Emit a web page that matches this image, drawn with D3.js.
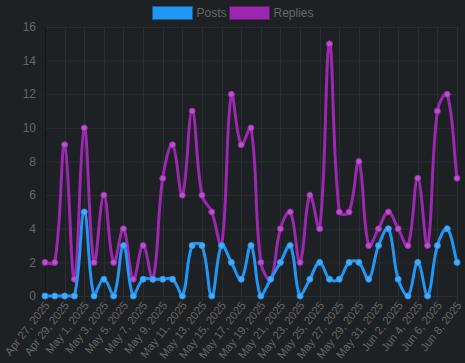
<!DOCTYPE html>
<html>
<head>
<meta charset="utf-8">
<script src="https://cdn.jsdelivr.net/npm/d3@7"></script>
<style>
  html, body { margin: 0; padding: 0; background: #1e2124; }
  svg { display: block; font-family: "Helvetica Neue", Helvetica, Arial, sans-serif; }
</style>
</head>
<body>
<script>
// data
var dates = ["Apr 27, 2025", "Apr 28, 2025", "Apr 29, 2025", "Apr 30, 2025",
  "May 1, 2025", "May 2, 2025", "May 3, 2025", "May 4, 2025", "May 5, 2025", "May 6, 2025",
  "May 7, 2025", "May 8, 2025", "May 9, 2025", "May 10, 2025", "May 11, 2025", "May 12, 2025",
  "May 13, 2025", "May 14, 2025", "May 15, 2025", "May 16, 2025", "May 17, 2025", "May 18, 2025",
  "May 19, 2025", "May 20, 2025", "May 21, 2025", "May 22, 2025", "May 23, 2025", "May 24, 2025",
  "May 25, 2025", "May 26, 2025", "May 27, 2025", "May 28, 2025", "May 29, 2025", "May 30, 2025",
  "May 31, 2025", "Jun 1, 2025", "Jun 2, 2025", "Jun 3, 2025", "Jun 4, 2025", "Jun 5, 2025",
  "Jun 6, 2025", "Jun 7, 2025", "Jun 8, 2025"];

var posts = [0, 0, 0, 0, 5, 0, 1, 0, 3, 0, 1, 1, 1, 1, 0, 3, 3, 0, 3, 2, 1, 3, 0, 1, 2, 3, 0, 1, 2, 1, 1, 2, 2, 1, 3, 4, 1, 0, 2, 0, 3, 4, 2];
var replies = [2, 2, 9, 1, 10, 2, 6, 2, 4, 1, 3, 1, 7, 9, 6, 11, 6, 5, 3, 12, 9, 10, 2, 1, 4, 5, 2, 6, 4, 15, 5, 5, 8, 3, 4, 5, 4, 3, 7, 3, 11, 12, 7];

var yTicks = [0, 2, 4, 6, 8, 10, 12, 14, 16];

var series = [
  { name: "Posts", values: posts, color: "#2196F3", point: "#4aaaf5", edge: "#1b5c93" },
  { name: "Replies", values: replies, color: "#9C27B0", point: "#b556c6", edge: "#5e1a6b" }
];

var width = 465, height = 363;
var area = { left: 45, right: 457, top: 27, bottom: 296 };

var svg = d3.select("body").append("svg")
  .attr("width", width)
  .attr("height", height);

svg.append("rect").attr("width", width).attr("height", height).attr("fill", "#1e2124");

var x = d3.scalePoint()
  .domain(dates)
  .range([area.left, area.right]);

var y = d3.scaleLinear()
  .domain([0, 16])
  .range([area.bottom, area.top]);

var gridColor = "#2a2d31";
var textColor = "#666";

// grid
var grid = svg.append("g");
grid.selectAll(".hgrid")
  .data(yTicks)
  .enter().append("line")
  .attr("x1", area.left).attr("x2", area.right)
  .attr("y1", function(d) { return y(d) + 0.5; })
  .attr("y2", function(d) { return y(d) + 0.5; })
  .attr("stroke", gridColor);

// only every second date gets a label
var labelDates = dates.filter(function(d, i) { return i % 2 == 0; });

grid.selectAll(".vgrid")
  .data(labelDates)
  .enter().append("line")
  .attr("x1", function(d) { return Math.round(x(d)) + 0.5; })
  .attr("x2", function(d) { return Math.round(x(d)) + 0.5; })
  .attr("y1", area.top).attr("y2", area.bottom + 6)
  .attr("stroke", gridColor);

// y axis line
svg.append("line")
  .attr("x1", area.left + 0.5).attr("x2", area.left + 0.5)
  .attr("y1", area.top).attr("y2", area.bottom)
  .attr("stroke", "#141618");

// y labels
svg.selectAll(".ylab")
  .data(yTicks)
  .enter().append("text")
  .attr("x", 36)
  .attr("y", function(d) { return y(d); })
  .attr("dy", "0.35em")
  .attr("text-anchor", "end")
  .attr("font-size", 12)
  .attr("fill", textColor)
  .text(function(d) { return d; });

// x labels
svg.selectAll(".xlab")
  .data(labelDates)
  .enter().append("text")
  .attr("transform", function(d) { return "translate(" + (x(d) + 2) + "," + (area.bottom + 7) + ") rotate(-52)"; })
  .attr("dy", "0.35em")
  .attr("text-anchor", "end")
  .attr("font-size", 11.3)
  .attr("fill", textColor)
  .text(function(d) { return d; });

// chart.js style spline, tension 0.4, control points capped to the chart area
function splinePath(pts, t) {
  var cps = pts.map(function(p, i) {
    var prev = pts[i - 1] || p, next = pts[i + 1] || p;
    var d01 = Math.hypot(p[0] - prev[0], p[1] - prev[1]);
    var d12 = Math.hypot(next[0] - p[0], next[1] - p[1]);
    var s01 = d01 / (d01 + d12) || 0, s12 = d12 / (d01 + d12) || 0;
    var fa = t * s01, fb = t * s12;
    var cap = function(c) {
      return [Math.max(area.left, Math.min(area.right, c[0])), Math.max(area.top, Math.min(area.bottom, c[1]))];
    };
    return {
      before: cap([p[0] - fa * (next[0] - prev[0]), p[1] - fa * (next[1] - prev[1])]),
      after: cap([p[0] + fb * (next[0] - prev[0]), p[1] + fb * (next[1] - prev[1])])
    };
  });
  var path = d3.path();
  path.moveTo(pts[0][0], pts[0][1]);
  for (var i = 1; i < pts.length; i++) {
    path.bezierCurveTo(cps[i - 1].after[0], cps[i - 1].after[1], cps[i].before[0], cps[i].before[1], pts[i][0], pts[i][1]);
  }
  return path.toString();
}

// replies drawn first so posts sit on top
series.slice().reverse().forEach(function(s) {
  var pts = s.values.map(function(v, i) { return [x(dates[i]), y(v)]; });
  var g = svg.append("g");
  g.append("path")
    .attr("d", splinePath(pts, 0.4))
    .attr("fill", "none")
    .attr("stroke", s.color)
    .attr("stroke-width", 3);
  g.selectAll("circle")
    .data(s.values)
    .enter().append("circle")
    .attr("cx", function(d, i) { return x(dates[i]); })
    .attr("cy", function(d) { return y(d); })
    .attr("r", 3)
    .attr("fill", s.point)
    .attr("stroke", s.color)
    .attr("stroke-width", 1);
});

// legend
var legend = svg.append("g");
var legendX = [152.5, 229.5];
series.forEach(function(s, i) {
  legend.append("rect")
    .attr("x", legendX[i]).attr("y", 6.5)
    .attr("width", 40).attr("height", 13)
    .attr("fill", s.color)
    .attr("stroke", s.edge);
  legend.append("text")
    .attr("x", legendX[i] + 44)
    .attr("y", 13)
    .attr("dy", "0.35em")
    .attr("font-size", 12)
    .attr("fill", textColor)
    .text(s.name);
});
</script>
</body>
</html>
